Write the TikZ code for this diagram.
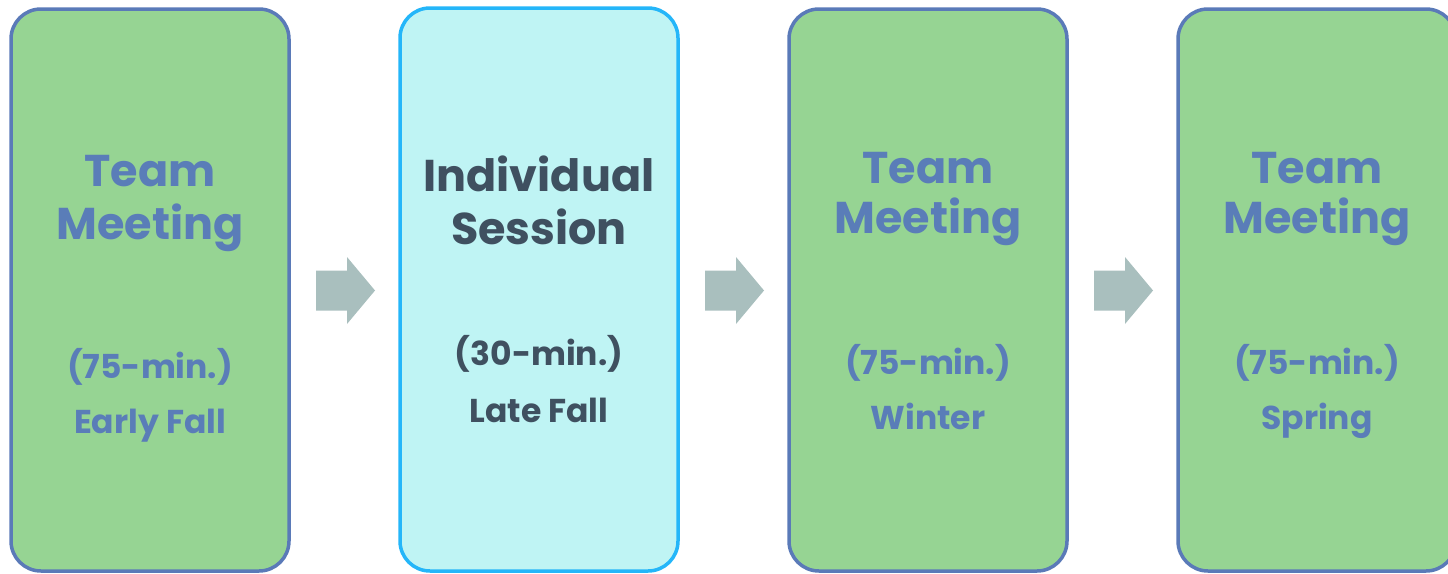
\documentclass[tikz,border=0pt]{standalone}
\usepackage{fontspec}
\setmainfont{Poppins}
\definecolor{gfill}{HTML}{96D493}
\definecolor{gline}{HTML}{5A7AB8}
\definecolor{gtext}{HTML}{5A7DB8}
\definecolor{cfill}{HTML}{BFF4F4}
\definecolor{cline}{HTML}{24B6F9}
\definecolor{ctext}{HTML}{3F5060}
\definecolor{afill}{HTML}{A9BFBE}
\tikzset{
  greenbox/.style={fill=gfill, draw=gline, line width=3.5pt, rounded corners=30pt},
  cyanbox/.style={fill=cfill, draw=cline, line width=3.5pt, rounded corners=30pt},
  big/.style={font=\fontsize{44.5}{50}\selectfont\bfseries, inner sep=0pt, anchor=base},
  small/.style={font=\fontsize{33}{38}\selectfont\bfseries, inner sep=0pt, anchor=base},
  blockarrow/.style={fill=afill, draw=none},
}
\begin{document}
\begin{tikzpicture}[x=1pt, y=-1pt]
\useasboundingbox (0,0) rectangle (1448,573);
% boxes
\path[greenbox] (11,9) rectangle (289,571);
\path[cyanbox] (400,8) rectangle (678,571);
\path[greenbox] (789,9) rectangle (1067,571);
\path[greenbox] (1178,9) rectangle (1456,571);
% arrows
\coordinate (a1) at (346,290.5);
\coordinate (a2) at (735,290.5);
\coordinate (a3) at (1124,290.5);
\foreach \a in {a1,a2,a3}{
  \path[blockarrow, shift={(\a)}] (-30,-20) -- (1,-20) -- (1,-33.5) -- (29,0) -- (1,33.5) -- (1,20) -- (-30,20) -- cycle;
}
% box 1
\node[big, text=gtext] (t1a) at (150,186) {Team};
\node[big, text=gtext] (t1b) at (150,239) {Meeting};
\node[small, text=gtext] (s1a) at (150,378) {(75-min.)};
\node[small, text=gtext] (s1b) at (150,433) {Early Fall};
% box 2
\node[big, text=ctext] (t2a) at (539,191) {Individual};
\node[big, text=ctext] (t2b) at (539,244) {Session};
\node[small, text=ctext] (s2a) at (539,365) {(30-min.)};
\node[small, text=ctext] (s2b) at (539,422) {Late Fall};
% box 3
\node[big, text=gtext] (t3a) at (928,183) {Team};
\node[big, text=gtext] (t3b) at (928,233) {Meeting};
\node[small, text=gtext] (s3a) at (928,374) {(75-min.)};
\node[small, text=gtext] (s3b) at (928,429) {Winter};
% box 4
\node[big, text=gtext] (t4a) at (1317,183) {Team};
\node[big, text=gtext] (t4b) at (1317,233) {Meeting};
\node[small, text=gtext] (s4a) at (1317,374) {(75-min.)};
\node[small, text=gtext] (s4b) at (1317,429) {Spring};
\end{tikzpicture}
\end{document}
